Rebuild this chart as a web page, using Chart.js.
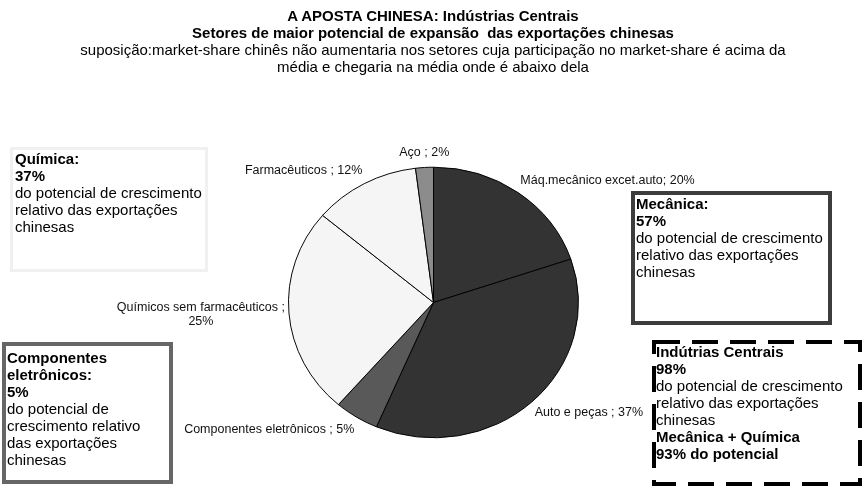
<!DOCTYPE html>
<html>
<head>
<meta charset="utf-8">
<script src="https://cdn.jsdelivr.net/npm/chart.js@4.4.1/dist/chart.umd.min.js"></script>
<style>
    html, body { margin: 0; padding: 0; background: #fff; }
    #wrap { position: relative; width: 864px; height: 486px; overflow: hidden; font-family: Arial, "Liberation Sans", sans-serif; color: #000; }
    #chart { position: absolute; left: 0; top: 0; }
    .title { position: absolute; left: 0; top: 7px; width: 866px; text-align: center; font-size: 15px; line-height: 17px; }
    .title b { font-weight: bold; }
    .box { position: absolute; box-sizing: border-box; font-size: 15px; line-height: 17px; }
    .box b { font-weight: bold; }
    #dash { position: absolute; left: 0; top: 0; }
</style>
</head>
<body>
<div id="wrap">
    <canvas id="chart" width="864" height="486"></canvas>
    <div class="title">
        <b>A APOSTA CHINESA: Indústrias Centrais</b><br>
        <b>Setores de maior potencial de expansão&nbsp; das exportações chinesas</b><br>
        suposição:market-share chinês não aumentaria nos setores cuja participação no market-share é acima da<br>
        média e chegaria na média onde é abaixo dela
    </div>

    <div class="box" style="left:10px; top:147px; width:198px; height:125px; border:3px solid #f0f0f0; padding:0 0 0 2px;">
        <b>Química:<br>37%</b><br>do potencial de crescimento<br>relativo das exportações<br>chinesas
    </div>

    <div class="box" style="left:631px; top:191px; width:201px; height:134px; border:4px solid #3d3d3d; padding:0 0 0 1px;">
        <b>Mecânica:<br>57%</b><br>do potencial de crescimento<br>relativo das exportações<br>chinesas
    </div>

    <div class="box" style="left:2px; top:342px; width:171px; height:142px; border:4px solid #666; padding:3px 0 0 1px;">
        <b>Componentes<br>eletrônicos:<br>5%</b><br>do potencial de<br>crescimento relativo<br>das exportações<br>chinesas
    </div>

    <svg id="dash" width="864" height="486">
        <rect x="654" y="342" width="206" height="142" fill="none" stroke="#000" stroke-width="4" stroke-dasharray="26 12"></rect>
    </svg>
    <div class="box" style="left:656px; top:343px; width:204px;">
        <b>Indútrias Centrais<br>98%</b><br>do potencial de crescimento<br>relativo das exportações<br>chinesas<br><b>Mecânica + Química<br>93% do potencial</b>
    </div>
</div>

<script>
// sectors, clockwise from 12 o'clock
const categories = ['Máq.mecânico excet.auto', 'Auto e peças ', 'Componentes eletrônicos ', 'Químicos sem farmacêuticos ', 'Farmacêuticos ', 'Aço '];
const shares = [20, 37, 5, 25, 12, 2];
const breakLabel = [false, false, false, true, false, false];
const sliceColors = ['#333333', '#333333', '#595959', '#f5f5f5', '#f5f5f5', '#8c8c8c'];

// the original pie is a bit squashed vertically
const squash = 0.933;

const squashedPie = {
    id: 'squashedPie',
    beforeDatasetsDraw(chart) {
        const arc = chart.getDatasetMeta(0).data[0];
        const ctx = chart.ctx;
        ctx.save();
        ctx.translate(arc.x, arc.y);
        ctx.scale(1, squash);
        ctx.translate(-arc.x, -arc.y);
    },
    afterDatasetsDraw(chart) {
        const ctx = chart.ctx;
        ctx.restore();

        const meta = chart.getDatasetMeta(0);
        ctx.save();
        ctx.font = '12.5px Arial, "Liberation Sans", sans-serif';
        ctx.fillStyle = '#111';
        ctx.textBaseline = 'middle';
        ctx.textAlign = 'center';
        meta.data.forEach((arc, i) => {
            const mid = (arc.startAngle + arc.endAngle) / 2;
            const r = arc.outerRadius + 4;
            const c = Math.cos(mid);
            const s = Math.sin(mid);
            const ax = arc.x + c * r;
            const ay = arc.y + s * r * squash + s * 11;
            const lines = breakLabel[i]
                ? [categories[i] + ';', shares[i] + '%']
                : [categories[i] + '; ' + shares[i] + '%'];
            const w = Math.max(...lines.map(l => ctx.measureText(l).width));
            let left;
            if (c > 0.15) left = ax;
            else if (c < -0.15) left = ax - w;
            else left = ax - w / 2;
            const lh = 14;
            const top = ay - (lines.length - 1) * lh / 2;
            lines.forEach((l, k) => ctx.fillText(l, left + w / 2, top + k * lh));
        });
        ctx.restore();
    }
};

new Chart(document.getElementById('chart'), {
    type: 'pie',
    data: {
        labels: categories,
        datasets: [{
            data: shares,
            backgroundColor: sliceColors,
            borderColor: '#000',
            borderWidth: 1,
            hoverOffset: 0
        }]
    },
    options: {
        responsive: false,
        animation: false,
        layout: { padding: { top: 156, bottom: 37, left: 288, right: 285 } },
        plugins: {
            legend: { display: false },
            tooltip: { enabled: false }
        }
    },
    plugins: [squashedPie]
});
</script>
</body>
</html>
